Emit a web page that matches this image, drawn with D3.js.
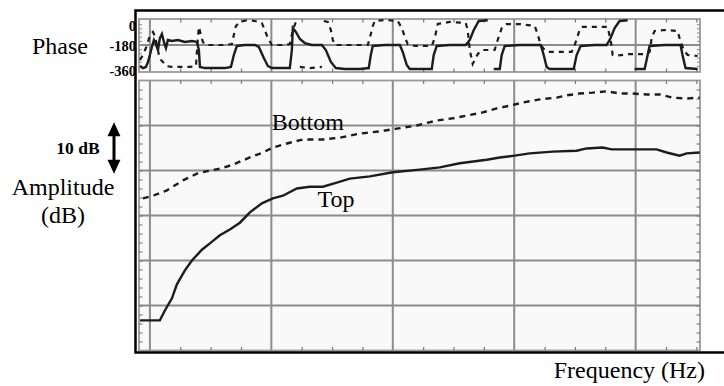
<!DOCTYPE html>
<html><head><meta charset="utf-8">
<script src="https://cdn.jsdelivr.net/npm/d3@7"></script>
<style>
body{margin:0;background:#fff}
svg{display:block}
text{font-family:"Liberation Serif","Times New Roman",serif;fill:#000}
</style></head><body>
<svg id="chart" width="724" height="386"></svg>
<script>
// Axis values
const phaseTicks = [0, -180, -360];
const freqMajor = [1000, 2000, 3000, 4000, 5000];
const ampGrid = [-50, -40, -30, -20, -10];

// Amplitude responses [Hz, dB]
const topAmp = [
  [918,-53.3],[1082,-53.3],[1123,-51.1],[1181,-48.4],[1222,-45.3],[1288,-42.2],[1346,-40.0],
  [1428,-37.6],[1494,-36.2],[1576,-34.4],[1658,-33.1],[1741,-31.6],[1823,-29.3],[1922,-27.3],
  [2012,-26.2],[2095,-25.6],[2210,-24.0],[2317,-23.6],[2424,-23.6],[2539,-22.7],[2646,-21.8],
  [2811,-21.3],[3000,-20.4],[3222,-19.8],[3387,-19.3],[3551,-18.4],[3774,-17.6],[3881,-17.1],
  [4004,-16.7],[4128,-16.2],[4317,-15.8],[4514,-15.6],[4597,-15.1],[4728,-14.9],[4802,-15.3],
  [5008,-15.3],[5173,-15.3],[5255,-16.0],[5362,-16.7],[5420,-16.2],[5527,-16.0]
];
const bottomAmp = [
  [942,-26.2],[1025,-25.6],[1140,-24.4],[1272,-22.2],[1387,-20.7],[1494,-20.0],[1576,-19.6],
  [1683,-18.7],[1823,-17.1],[1930,-16.0],[2012,-14.9],[2128,-14.0],[2259,-13.1],[2424,-13.1],
  [2564,-12.7],[2728,-11.8],[2893,-11.3],[3033,-10.7],[3197,-10.0],[3362,-8.9],[3494,-8.4],
  [3609,-7.8],[3741,-7.1],[3856,-6.2],[3963,-5.6],[4070,-4.9],[4210,-4.2],[4350,-3.8],
  [4432,-3.3],[4539,-2.9],[4646,-2.7],[4761,-2.4],[4868,-2.9],[4975,-2.9],[5090,-3.1],
  [5197,-3.1],[5304,-3.8],[5420,-4.0],[5527,-3.8]
];

// Wrapped phase responses [Hz, degrees]; null marks a wrap
const topPhase = [
  [918,-331],[942,-346],[967,-338],[984,-302],[1000,-252],[1016,-194],[1033,-144],[1049,-173],
  [1066,-216],[1082,-130],[1099,-101],[1115,-158],[1132,-202],[1148,-144],[1181,-151],[1230,-144],
  [1288,-158],[1346,-151],[1387,-158],[1403,-216],[1412,-338],[1453,-346],[1535,-346],[1617,-346],
  [1667,-338],[1691,-252],[1716,-187],[1782,-180],[1864,-180],[1897,-194],[1938,-274],[1971,-331],
  [2004,-346],[2070,-346],[2152,-346],[2169,-216],[2177,-58],[2202,-86],[2235,-137],[2276,-166],
  [2333,-180],[2416,-180],[2449,-216],[2490,-302],[2531,-346],[2605,-353],[2728,-353],[2802,-346],
  [2819,-252],[2835,-187],[2934,-180],[3058,-180],[3082,-230],[3115,-324],[3140,-353],[3222,-353],
  [3321,-353],[3337,-252],[3362,-187],[3469,-180],[3601,-180],[3634,-144],[3667,-72],[3708,-7],
  [3782,-2],null,
  [3831,-353],[3881,-353],[3897,-252],[3922,-187],[4045,-180],[4218,-180],[4243,-252],[4267,-338],
  [4292,-353],[4374,-353],[4490,-353],[4514,-252],[4547,-187],[4663,-180],[4761,-180],[4794,-130],
  [4827,-58],[4868,-7],[4934,-2],null,
  [4992,-353],[5074,-353],[5099,-252],[5115,-187],[5238,-180],[5370,-180],[5386,-252],[5411,-346],
  [5510,-353]
];
const bottomPhase = [
  [918,-288],[942,-252],[967,-202],[984,-158],[1000,-108],[1025,-86],[1041,-115],[1058,-180],
  [1074,-252],[1091,-288],[1107,-302],[1132,-331],[1181,-338],[1247,-338],[1329,-338],[1379,-331],
  [1395,-130],[1403,-50],[1420,-108],[1436,-158],[1461,-180],[1535,-180],[1617,-180],[1675,-173],
  [1691,-108],[1708,-43],[1741,-14],[1807,0],[1864,-7],[1922,-22],[1946,-72],[1971,-130],
  [2004,-180],[2086,-180],[2152,-173],[2177,-72],[2202,-14],null,
  [2235,-338],[2317,-346],[2416,-338],null,
  [2432,-7],[2465,-14],[2490,-72],[2506,-144],[2523,-180],[2646,-180],[2794,-180],[2811,-130],
  [2835,-43],[2852,-7],[2934,0],[3041,-7],[3074,-58],[3099,-122],[3123,-173],[3181,-187],
  [3321,-187],[3346,-130],[3370,-29],[3469,-14],[3601,-22],[3617,-72],[3634,-216],[3658,-317],
  [3700,-245],[3733,-216],[3839,-216],[3864,-144],[3897,-58],[3938,-29],[4045,-29],[4169,-43],
  [4193,-101],[4218,-180],[4251,-216],[4276,-230],[4374,-230],[4473,-230],[4498,-180],[4539,-72],
  [4556,-50],[4663,-50],[4769,-50],[4794,-144],[4811,-252],[4827,-259],[4950,-245],[5074,-245],
  [5115,-230],[5132,-130],[5156,-79],[5238,-72],[5345,-79],[5362,-130],[5395,-216],[5428,-252],
  [5510,-259]
];

const svg = d3.select("#chart");
const panelL = 139, panelR = 700;
const x = d3.scaleLinear().domain([910, 5530]).range([panelL, panelR]);
const yA = d3.scaleLinear().domain([-60, 0]).range([350.5, 80.5]);
const yP = d3.scaleLinear().domain([-360, 0]).range([70, 20]);
const phaseBox = {top: 19, bottom: 72};

const gridCol = "#8c8c8c", panelFill = "#f9f9f9", inkCol = "#1c1c1c";
const minorFreq = d3.range(1250, 5600, 250).filter(f => f % 1000 !== 0);

function panel(yTop, yBot) {
  const g = svg.append("g");
  g.append("rect").attr("x", panelL).attr("y", yTop)
    .attr("width", panelR - panelL).attr("height", yBot - yTop)
    .attr("fill", panelFill).attr("stroke", "#9a9a9a").attr("stroke-width", 1.8);
  // major vertical grid
  g.selectAll("line.vg").data(freqMajor).join("line")
    .attr("x1", d => x(d)).attr("x2", d => x(d))
    .attr("y1", yTop).attr("y2", yBot)
    .attr("stroke", gridCol).attr("stroke-width", 2);
  // minor frequency ticks on top and bottom edges
  const ta = d3.axisTop(x).tickValues(minorFreq).tickFormat("").tickSizeOuter(0).tickSizeInner(-3.5);
  const ba = d3.axisBottom(x).tickValues(minorFreq).tickFormat("").tickSizeOuter(0).tickSizeInner(-3.5);
  const gt = g.append("g").attr("transform", `translate(0,${yTop})`).call(ta);
  const gb = g.append("g").attr("transform", `translate(0,${yBot})`).call(ba);
  [gt, gb].forEach(a => {
    a.select(".domain").remove();
    a.selectAll("line").attr("stroke", "#777").attr("stroke-width", 1.2);
  });
  return g;
}

// ---------- Phase panel ----------
const gP = panel(phaseBox.top, phaseBox.bottom);
gP.append("line").attr("x1", panelL).attr("x2", panelR)
  .attr("y1", yP(-180)).attr("y2", yP(-180))
  .attr("stroke", gridCol).attr("stroke-width", 2);
[panelL, panelR].forEach((px, i) => {
  const ax = (i === 0 ? d3.axisLeft(yP) : d3.axisRight(yP))
    .tickValues(d3.range(-330, 0, 30)).tickFormat("").tickSizeOuter(0).tickSizeInner(-3);
  const a = gP.append("g").attr("transform", `translate(${px},0)`).call(ax);
  a.select(".domain").remove();
  a.selectAll("line").attr("stroke", "#888").attr("stroke-width", 1);
});

// ---------- Amplitude panel ----------
const gA = panel(yA(0), yA(-60));
gA.selectAll("line.hg").data(ampGrid).join("line")
  .attr("x1", panelL).attr("x2", panelR)
  .attr("y1", d => yA(d)).attr("y2", d => yA(d))
  .attr("stroke", gridCol).attr("stroke-width", 2);
[panelL, panelR].forEach((px, i) => {
  const ax = (i === 0 ? d3.axisLeft(yA) : d3.axisRight(yA))
    .tickValues(d3.range(-58, 0, 2)).tickFormat("").tickSizeOuter(0).tickSizeInner(-3.5);
  const a = gA.append("g").attr("transform", `translate(${px},0)`).call(ax);
  a.select(".domain").remove();
  a.selectAll("line").attr("stroke", "#777").attr("stroke-width", 1.1);
});

// ---------- Curves ----------
const lineA = d3.line().x(d => x(d[0])).y(d => yA(d[1]));
const lineP = d3.line().defined(d => d !== null).x(d => x(d[0])).y(d => yP(d[1]));

gA.append("path").datum(bottomAmp).attr("d", lineA)
  .attr("fill", "none").attr("stroke", inkCol).attr("stroke-width", 2.4)
  .attr("stroke-dasharray", "6,5");
gA.append("path").datum(topAmp).attr("d", lineA)
  .attr("fill", "none").attr("stroke", inkCol).attr("stroke-width", 2.4);

gP.append("path").datum(bottomPhase).attr("d", lineP)
  .attr("fill", "none").attr("stroke", inkCol).attr("stroke-width", 2.2)
  .attr("stroke-dasharray", "5,5");
gP.append("path").datum(topPhase).attr("d", lineP)
  .attr("fill", "none").attr("stroke", inkCol).attr("stroke-width", 2.4);

// ---------- Outer frame ----------
const frame = svg.append("g").attr("stroke", "#000").attr("stroke-width", 2.5).attr("fill", "none");
frame.append("path").attr("d", "M724,10.5 H135.5 V352.5 H724");

// ---------- Phase tick labels ----------
const pAxis = d3.axisLeft(yP).tickValues(phaseTicks).tickFormat(d => String(d))
  .tickSize(0).tickPadding(0);
const pa = svg.append("g").attr("transform", "translate(136,0)").call(pAxis);
pa.select(".domain").remove();
pa.selectAll("text")
  .attr("font-family", '"Liberation Serif",serif').attr("font-weight", "bold")
  .attr("font-size", 14.5).attr("fill", "#000")
  .attr("dy", d => d === 0 ? "0.75em" : "0.4em");

// ---------- Labels ----------
const fs = 24;
svg.append("text").attr("x", 60).attr("y", 54).attr("text-anchor", "middle")
  .attr("font-size", fs).text("Phase");
svg.append("text").attr("x", 78).attr("y", 154).attr("text-anchor", "middle")
  .attr("font-size", 17.5).attr("font-weight", "bold").text("10 dB");
svg.append("text").attr("x", 63).attr("y", 195).attr("text-anchor", "middle")
  .attr("font-size", fs).text("Amplitude");
svg.append("text").attr("x", 63).attr("y", 223).attr("text-anchor", "middle")
  .attr("font-size", fs).text("(dB)");
svg.append("text").attr("x", 705).attr("y", 378).attr("text-anchor", "end")
  .attr("font-size", fs).text("Frequency (Hz)");
svg.append("text").attr("x", x(2004)).attr("y", yA(-10.9)).attr("font-size", fs).text("Bottom");
svg.append("text").attr("x", x(2381)).attr("y", yA(-28.2)).attr("font-size", fs).text("Top");

// 10 dB scale arrow
const arrowX = 114, a0 = yA(-9.3), a1 = yA(-20.7);
const arr = svg.append("g").attr("fill", "#000");
arr.append("line").attr("x1", arrowX).attr("x2", arrowX).attr("y1", a0 + 10).attr("y2", a1 - 10)
  .attr("stroke", "#000").attr("stroke-width", 3);
arr.append("path").attr("d", `M${arrowX},${a0} L${arrowX - 6.5},${a0 + 14} L${arrowX + 6.5},${a0 + 14} Z`);
arr.append("path").attr("d", `M${arrowX},${a1} L${arrowX - 6.5},${a1 - 14} L${arrowX + 6.5},${a1 - 14} Z`);
</script>
</body></html>
